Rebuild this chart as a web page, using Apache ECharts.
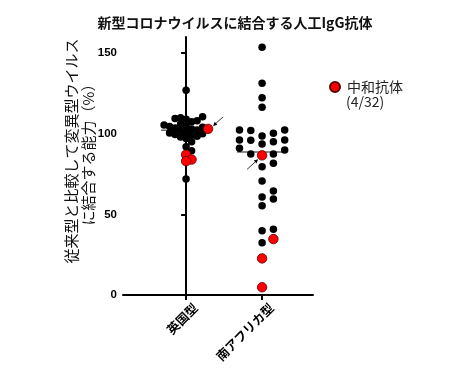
<!DOCTYPE html>
<html><head><meta charset="utf-8">
<script src="https://cdn.jsdelivr.net/npm/echarts@6/dist/echarts.min.js"></script>
<style>html,body{margin:0;padding:0;background:#fff}#c{width:470px;height:369px}</style>
</head><body><div id="c"></div>
<script>
const categories = ['英国型', '南アフリカ型'];
const ukBlack = [127, 72, 110.5, 110, 109.5, 109, 108, 107.5, 106, 105.5, 105, 104.5, 104, 103.5, 103, 102.3, 102, 101, 100.5, 100, 99.5, 99, 98.5, 98, 97, 95, 92, 89.5];
const ukRed = [103, 87, 84, 83];
const saBlack = [153.6, 131.3, 122.4, 116.4, 102.3, 100.3, 102.3, 102, 98.6, 95.1, 96.1, 96.1, 96, 93.6, 89.9, 91, 87.4, 87.4, 79.6, 81.7, 70.7, 64.5, 60.8, 59.5, 55.4, 40.7, 39.9, 32.4];
const saRed = [86.6, 34.7, 22.7, 4.8];
const yTicks = [0, 50, 100, 150];
const legendName = '中和抗体';
const legendSub = '(4/32)';
const yName = ['従来型と比較して変異型ウイルス', 'に結合する能力（%）'];
const titleText = '新型コロナウイルスに結合する人工IgG抗体';

const Y_MIN = 0, Y_MAX = 160;
const GRID = {left: 123, right: 157, top: 37, bottom: 74};
const plotH = 369 - GRID.top - GRID.bottom;
const pxPerUnit = plotH / (Y_MAX - Y_MIN);

// simple column beeswarm (pixel offsets computed from values)
function swarm(values, s, d) {
  const idx = values.map((v, i) => i).sort((a, b) => values[a] - values[b]);
  const order = [0, 1, -1, 2, -2, 3, -3, 4, -4, 5, -5];
  const placed = [];
  const off = new Array(values.length);
  idx.forEach(i => {
    const y = values[i] * pxPerUnit;
    for (const k of order) {
      if (placed.every(q => q.k !== k || Math.abs(q.y - y) >= d)) {
        placed.push({k, y}); off[i] = k * s; break;
      }
    }
  });
  return off;
}
function median(arr) {
  const a = arr.slice().sort((x, y) => x - y);
  const n = a.length;
  return n % 2 ? a[(n - 1) / 2] : (a[n / 2 - 1] + a[n / 2]) / 2;
}

const groups = [
  {black: ukBlack, red: ukRed, s: 5.5, d: 6},
  {black: saBlack, red: saRed, s: 11.3, d: 7.5}
];
const blackData = [], redData = [], medData = [], redOffsets = [];
groups.forEach((g, gi) => {
  const all = g.black.concat(g.red);
  const off = swarm(all, g.s, g.d);
  g.black.forEach((v, i) => blackData.push({value: [gi, v], symbolOffset: [off[i], 0]}));
  g.red.forEach((v, i) => {
    const o = off[g.black.length + i];
    redData.push({value: [gi, v], symbolOffset: [o, 0]});
    if (i === 0) redOffsets.push(o);
  });
  medData.push([gi, median(all)]);
});

const chart = echarts.init(document.getElementById('c'));
const CJK = '"Noto Sans CJK JP", "Noto Sans", sans-serif';
const LAT = '"Liberation Sans", Arial, sans-serif';
chart.setOption({
  animation: false,
  title: {text: titleText, left: 'center', top: 11,
    textStyle: {fontFamily: CJK, fontSize: 14, fontWeight: 'bold', color: '#111'}},
  legend: {data: [{name: legendName, icon: 'circle'}], left: 324, top: 75, itemWidth: 10, itemHeight: 10, itemGap: 6,
    textStyle: {fontFamily: CJK, fontSize: 14, color: '#222', padding: [0, 0, 0, 2]}},
  grid: GRID,
  xAxis: {type: 'value', min: -0.83, max: 1.67, splitLine: {show: false},
    axisLine: {show: true, lineStyle: {color: '#000', width: 2}},
    axisTick: {show: true, customValues: [0, 1], length: 5, lineStyle: {color: '#000', width: 2}},
    axisLabel: {customValues: [0, 1], formatter: v => categories[Math.round(v)] || '', rotate: 45, margin: 11,
      verticalAlign: 'top', padding: [0, -7, 0, 0],
      fontFamily: CJK, fontSize: 12.5, fontWeight: 'bold', color: '#000'}},
  yAxis: {type: 'value', min: Y_MIN, max: Y_MAX, splitLine: {show: false},
    axisLine: {show: true, lineStyle: {color: '#000', width: 2}},
    axisTick: {show: true, customValues: yTicks, length: 5, lineStyle: {color: '#000', width: 2}},
    axisLabel: {customValues: yTicks, margin: 6, fontFamily: LAT, fontSize: 11.5, fontWeight: 'bold', color: '#000'}},
  series: [
    {type: 'custom', name: 'median', data: medData, z: 1, silent: true,
      renderItem: (params, api) => {
        const p = api.coord([api.value(0), api.value(1)]);
        return {type: 'line', shape: {x1: p[0] - 25, y1: p[1], x2: p[0] + 24, y2: p[1]},
          style: {stroke: '#666', lineWidth: 1.5}};
      }},
    {type: 'scatter', name: 'black', data: blackData, symbolSize: 7.5, z: 2,
      itemStyle: {color: '#000', opacity: 1}},
    {type: 'scatter', name: legendName, data: redData, symbolSize: 9.5, z: 3,
      itemStyle: {color: '#ff0000', borderColor: '#5a0000', borderWidth: 0.8, opacity: 1}}
  ]
});

// arrows pointing at the first neutralizing antibody in each group
const arrowDefs = [
  {tip: [5, -3], tail: [15, -12]},
  {tip: [-4, 4], tail: [-15, 14]}
];
const gfx = [];
[0, 1].forEach(gi => {
  const c = chart.convertToPixel({seriesIndex: 2}, [gi, groups[gi].red[0]]);
  const cx = c[0] + redOffsets[gi], cy = c[1];
  const a = arrowDefs[gi];
  const tx = cx + a.tip[0], ty = cy + a.tip[1], sx = cx + a.tail[0], sy = cy + a.tail[1];
  const ang = Math.atan2(ty - sy, tx - sx);
  const L = 4, W = 2;
  const bx = tx - L * Math.cos(ang), by = ty - L * Math.sin(ang);
  gfx.push({type: 'line', shape: {x1: sx, y1: sy, x2: bx, y2: by}, style: {stroke: '#000', lineWidth: 0.8}, z: 10});
  gfx.push({type: 'polygon', shape: {points: [[tx, ty],
    [bx + W * Math.sin(ang), by - W * Math.cos(ang)], [bx - W * Math.sin(ang), by + W * Math.cos(ang)]]},
    style: {fill: '#000'}, z: 10});
});
gfx.push({type: 'text', left: 346, top: 95, style: {text: legendSub, font: '14px ' + CJK, fill: '#222'}});
gfx.push({type: 'text', x: 80, y: 151, rotation: Math.PI / 2,
  style: {text: yName.join('\n'), font: '15px ' + CJK, fill: '#111', align: 'center', verticalAlign: 'middle', lineHeight: 17}});
chart.setOption({graphic: gfx});
</script></body></html>
